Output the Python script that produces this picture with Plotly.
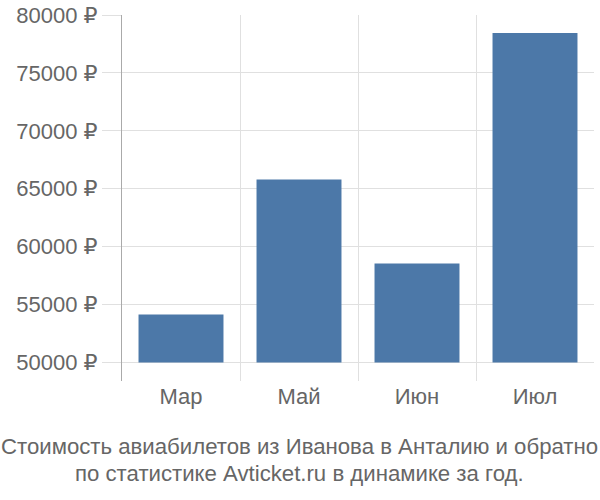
import plotly.graph_objects as go

# data
months = ["Мар", "Май", "Июн", "Июл"]
prices = [54150, 65800, 58550, 78440]
y_ticks = [50000, 55000, 60000, 65000, 70000, 75000, 80000]
y_labels = [f"{v} ₽" for v in y_ticks]
base_price = 50000
title_lines = [
    "Стоимость авиабилетов из Иванова в Анталию и обратно",
    "по статистике Avticket.ru в динамике за год.",
]

bar_color = "#4c78a8"
grid_color = "#e0e0e0"
text_color = "#666666"
font_family = "Liberation Sans, DejaVu Sans, Arial, sans-serif"

fig = go.Figure()
fig.add_trace(
    go.Bar(
        x=list(range(len(months))),
        y=[p - base_price for p in prices],
        base=base_price,
        width=0.72,
        marker=dict(color=bar_color, line=dict(width=0)),
        hovertext=[f"{m}: {p} ₽" for m, p in zip(months, prices)],
        hoverinfo="text",
    )
)

# caption under the chart, centred on the page
for i, line in enumerate(title_lines):
    fig.add_annotation(
        text=line,
        xref="paper", yref="paper",
        x=0.3771, y=-0.1803 - i * 0.0711,
        xanchor="center", yanchor="middle",
        showarrow=False,
        font=dict(size=22.2, color=text_color, family=font_family),
    )

fig.update_layout(
    width=600,
    height=500,
    margin=dict(l=122, r=6, t=15, b=119),
    paper_bgcolor="white",
    plot_bgcolor="white",
    showlegend=False,
    font=dict(family=font_family, size=22, color=text_color),
)

fig.update_xaxes(
    range=[-0.5, len(months) - 0.5],
    tickvals=list(range(len(months))),
    ticktext=months,
    showgrid=False,
    zeroline=False,
    ticks="",
    ticklabelstandoff=0,
    automargin=False,
    minor=dict(tick0=-0.5, dtick=1, showgrid=True, gridcolor=grid_color, gridwidth=1, ticks=""),
    fixedrange=True,
)

fig.update_yaxes(
    range=[48400, 80000],
    tickvals=y_ticks,
    ticktext=y_labels,
    showgrid=True,
    gridcolor=grid_color,
    gridwidth=1,
    zeroline=False,
    showline=True,
    linecolor="#aaaaaa",
    linewidth=1,
    ticks="outside",
    ticklen=19,
    tickcolor=grid_color,
    ticklabelstandoff=0,
    automargin=False,
    fixedrange=True,
)

# the page's default body margin pushes the figure 8px off the corner
fig.write_html(
    "out.html",
    config={"displayModeBar": False},
    post_script="document.body.style.margin = '0';",
)
